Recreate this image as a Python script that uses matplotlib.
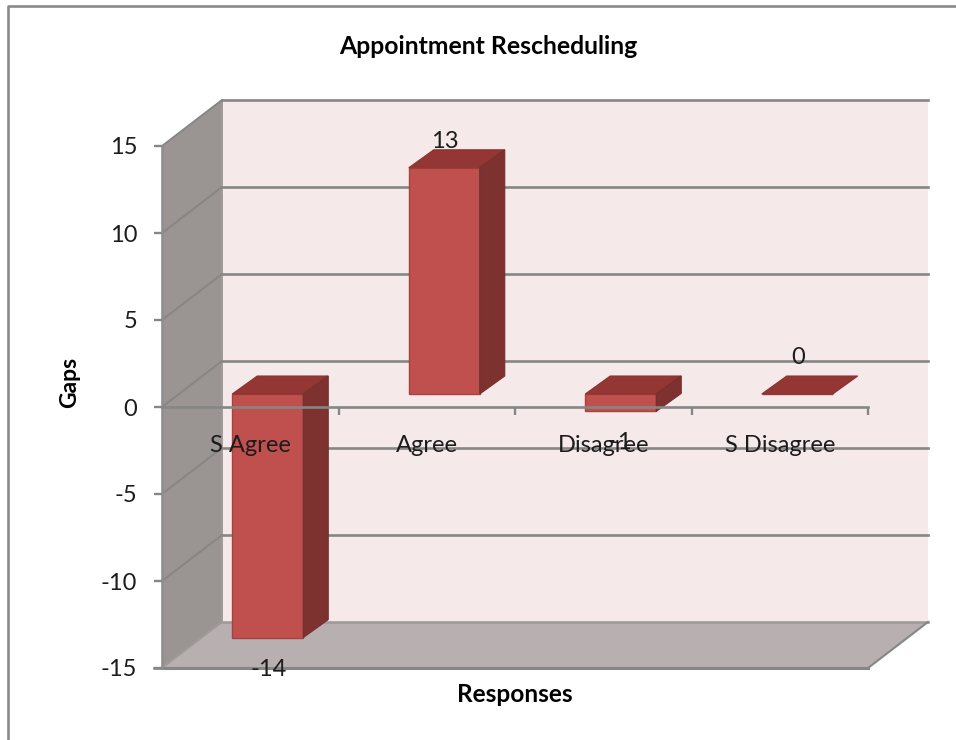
import matplotlib
matplotlib.use("Agg")
import matplotlib.pyplot as plt
from matplotlib.lines import Line2D
from matplotlib.patches import Polygon

categories = ["S Agree", "Agree", "Disagree", "S Disagree"]
gaps = [-14, 13, -1, 0]
y_ticks = [-15, -10, -5, 0, 5, 10, 15]
title = "Appointment Rescheduling"
x_label = "Responses"
y_label = "Gaps"

W, H = 956, 740
L, R, T, B = 162, 868, 146, 668
plt.rcParams["font.family"] = ["Lato", "DejaVu Sans"]
plt.rcParams["axes.unicode_minus"] = False

fig = plt.figure(figsize=(W / 100, H / 100), dpi=100, facecolor="white")
ax = fig.add_axes([L / W, 1 - B / H, (R - L) / W, (B - T) / H])
ax.set_xlim(-0.5, 3.5)
ax.set_ylim(-15, 15)
ax.patch.set_visible(False)

px = 4 / (R - L)          # data units per pixel, x
py = 30 / (B - T)         # data units per pixel, y
DX, DY = 60 * px, 46 * py  # chart depth
OX, OY = 17.5 * px, 13 * py  # bar placement in depth
BX, BY = 25 * px, 18 * py  # bar depth
BW = 71 * px

GRID = "#868686"
x0, x1 = -0.5, 3.5
ymin, ymax = -15, 15

def poly(pts, fc, ec="none", lw=0, z=1):
    ax.add_patch(Polygon(pts, closed=True, fc=fc, ec=ec, lw=lw, zorder=z,
                         clip_on=False, joinstyle="miter"))

# walls
poly([(x0 + DX, ymin + DY), (x0 + DX, ymax + DY), (x1 + DX, ymax + DY), (x1 + DX, ymin + DY)],
     "#f5e9e9", z=1)
poly([(x0, ymin), (x0, ymax), (x0 + DX, ymax + DY), (x0 + DX, ymin + DY)],
     "#9a9492", z=1.1)
poly([(x0, ymin), (x0 + DX, ymin + DY), (x1 + DX, ymin + DY), (x1, ymin)],
     "#b8b0b0", z=1.1)

# gridlines on back and side walls
for v in y_ticks:
    c = GRID if v != ymin else "#a09a9a"
    ax.plot([x0 + DX, x1 + DX], [v + DY, v + DY], color=c, lw=1.9, zorder=1.3, clip_on=False)
    ax.plot([x0, x0 + DX], [v, v + DY], color=c, lw=1.4, zorder=1.3, clip_on=False)
ax.plot([x1, x1 + DX], [ymin, ymin + DY], color=GRID, lw=1.5, zorder=1.3, clip_on=False)
ax.plot([x0 + DX, x0 + DX], [ymin + DY, ymax + DY], color="#a09a9a", lw=1.4, zorder=1.2, clip_on=False)

# bars
xs = list(range(len(categories)))
bars = ax.bar([x + OX for x in xs], gaps, width=BW, bottom=OY, color="#c0504d",
              edgecolor="#a8423f", linewidth=1.0, zorder=3, clip_on=False)
for rect, v in zip(bars, gaps):
    left = rect.get_x()
    right = left + rect.get_width()
    low, high = min(v, 0) + OY, max(v, 0) + OY
    poly([(left, high), (left + BX, high + BY), (right + BX, high + BY), (right, high)],
         "#943634", ec="#8a3331", lw=0.8, z=3.1)
    if high > low:
        poly([(right, low), (right + BX, low + BY), (right + BX, high + BY), (right, high)],
             "#7d322f", ec="#74302d", lw=0.8, z=3.1)

# axes, ticks
for s in ("top", "right"):
    ax.spines[s].set_visible(False)
ax.spines["bottom"].set_position(("data", 0))
ax.spines["bottom"].set_color(GRID)
ax.spines["bottom"].set_linewidth(1.9)
ax.spines["bottom"].set_zorder(5)
ax.spines["left"].set_color("#8f8f8f")
ax.spines["left"].set_linewidth(1.9)
ax.spines["left"].set_zorder(5)
ax.plot([x0, x1], [ymin, ymin], color=GRID, lw=2.2, zorder=5, clip_on=False)
ax.plot([x0 - 8 * px, x0], [ymin, ymin], color=GRID, lw=1.9, zorder=5, clip_on=False)

ax.set_yticks(y_ticks)
ax.tick_params(axis="y", length=5.8, width=1.7, color=GRID, labelsize=17,
               labelcolor="#1c1c1c", pad=12)
ax.set_xticks([0.5, 1.5, 2.5, 3.5])
ax.set_xticklabels([])
ax.set_xticks(xs, minor=True)
ax.set_xticklabels(categories, minor=True)
ax.tick_params(axis="x", which="major", length=5.8, width=1.7, color=GRID)
ax.tick_params(axis="x", which="minor", length=0, labelsize=17, labelcolor="#1c1c1c", pad=20)
ax.xaxis.set_zorder(6)
ax.yaxis.set_zorder(6)

# data labels (pixel offsets from the value on the front plane)
label_offsets = [(18, -19), (18, 39), (18, -18), (18, 49)]
for x, v, (ox, oy) in zip(xs, gaps, label_offsets):
    ax.text(x + ox * px, v + oy * py, str(v), ha="center", va="center", fontsize=17,
            color="#1c1c1c", zorder=7, clip_on=False)

# titles
ax.set_title(title, x=(488 - L) / (R - L), y=1 + (T - 46) / (B - T), fontsize=17.8,
             fontweight="bold", color="black", va="center", pad=0)
ax.set_xlabel(x_label, fontsize=17.6, fontweight="bold", color="black", va="center")
ax.xaxis.set_label_coords((515 - L) / (R - L), -(694 - B) / (B - T))
ax.set_ylabel(y_label, fontsize=16.5, fontweight="bold", color="black", va="center")
ax.yaxis.set_label_coords((70 - L) / (R - L), (B - 382) / (B - T))

# chart frame, cropped by the image edge
fig.add_artist(Line2D([8 / W, 8 / W, 1], [0, 1 - 6 / H, 1 - 6 / H], color="#8a8a8a", lw=1.9))

fig.savefig("out.png", dpi=100, facecolor="white")
